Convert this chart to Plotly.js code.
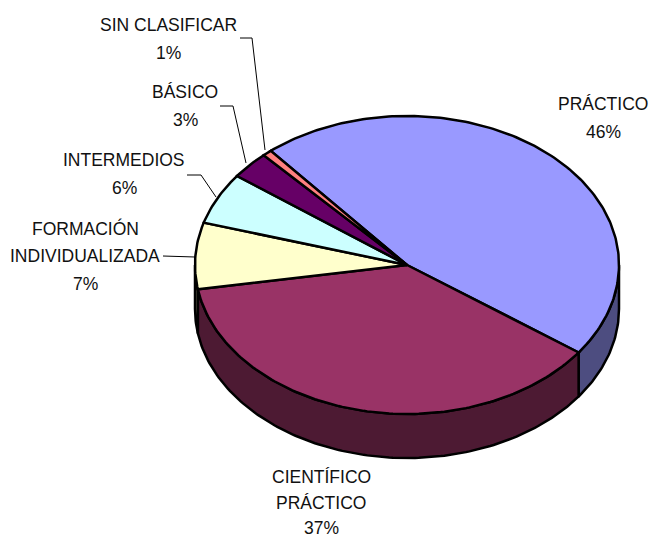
<!DOCTYPE html>
<html><head><meta charset="utf-8">
<script src="https://cdn.plot.ly/plotly-3.0.1.min.js"></script>
<style>html,body{margin:0;padding:0;background:#fff}</style></head>
<body><div id="c" style="width:650px;height:539px"></div>
<script>
// slice shares (%), clockwise, starting at the PRÁCTICO slice
const categories = ["PRÁCTICO","CIENTÍFICO PRÁCTICO","FORMACIÓN INDIVIDUALIZADA","INTERMEDIOS","BÁSICO","SIN CLASIFICAR"];
const values = [46.1,37.4,7.2,5.6,3.0,0.7];
const percentLabels = ["46%","37%","7%","6%","3%","1%"];
const topColors = ["#9999ff","#993366","#ffffcc","#ccffff","#660066","#ff8080"];
const wallColors = ["#4d4d80","#4d1a33","#808066","#668080","#330033","#804040"];
const labelLines = [["PRÁCTICO","46%"],["CIENTÍFICO","PRÁCTICO","37%"],["FORMACIÓN","INDIVIDUALIZADA","7%"],["INTERMEDIOS","6%"],["BÁSICO","3%"],["SIN CLASIFICAR","1%"]];
const labelX = [603,321,85,124,185,168];
const labelY = [104,477,228,160,92,25];
const lineGap = [28,25.5,28,28,28,28];
const leaderX = [[],[],[163,195],[187,201,216],[220,233,246],[240,252,265]];
const leaderY = [[],[],[256,257],[175,175,197],[106,106,163],[38,38,150]];
const cx=407, cy=265, rx=212, ry=149, depth=44, startAngle=-40;

const pt=(a,dy=0)=>{const r=a*Math.PI/180;return [cx+rx*Math.sin(r), cy-ry*Math.cos(r)+dy];};
const arc=(a0,a1,dy=0)=>{const n=Math.max(2,Math.ceil(Math.abs(a1-a0)));const o=[];for(let i=0;i<=n;i++)o.push(pt(a0+(a1-a0)*i/n,dy));return o;};
const total=values.reduce((s,v)=>s+v,0);
let a=startAngle; const spans=values.map(v=>{const s=[a,a+v/total*360];a=s[1];return s;});
const poly=(pts,fill)=>({type:'scatter',mode:'lines',x:pts.map(p=>p[0]),y:pts.map(p=>p[1]),fill:'toself',fillcolor:fill,
  line:{color:'#000',width:2.5,shape:'linear'},hoverinfo:'skip',showlegend:false});
const traces=[];
spans.forEach((s,i)=>{const lo=Math.max(s[0],90),hi=Math.min(s[1],270);
  if(hi>lo){const pts=arc(lo,hi).concat(arc(hi,lo,depth));pts.push(pts[0]);traces.push(poly(pts,wallColors[i]));}});
spans.forEach((s,i)=>{const pts=[[cx,cy]].concat(arc(s[0],s[1]));pts.push([cx,cy]);traces.push(poly(pts,topColors[i]));});
leaderX.forEach((xs,i)=>{if(xs.length)traces.push({type:'scatter',mode:'lines',x:xs,y:leaderY[i],line:{color:'#000',width:1},hoverinfo:'skip',showlegend:false});});
const annotations=[];
labelLines.forEach((ls,i)=>ls.forEach((t,j)=>annotations.push({x:labelX[i],y:labelY[i]+j*lineGap[i],text:t,showarrow:false,xanchor:'center',yanchor:'middle',
  font:{family:'Liberation Sans, Arial, sans-serif',size:17.5,color:'#111'}})));
Plotly.newPlot('c',traces,{width:650,height:539,margin:{l:0,r:0,t:0,b:0},paper_bgcolor:'#fff',plot_bgcolor:'#fff',showlegend:false,
  xaxis:{range:[0,650],visible:false,fixedrange:true},yaxis:{range:[539,0],visible:false,fixedrange:true},annotations},{displayModeBar:false,staticPlot:true});
</script></body></html>
